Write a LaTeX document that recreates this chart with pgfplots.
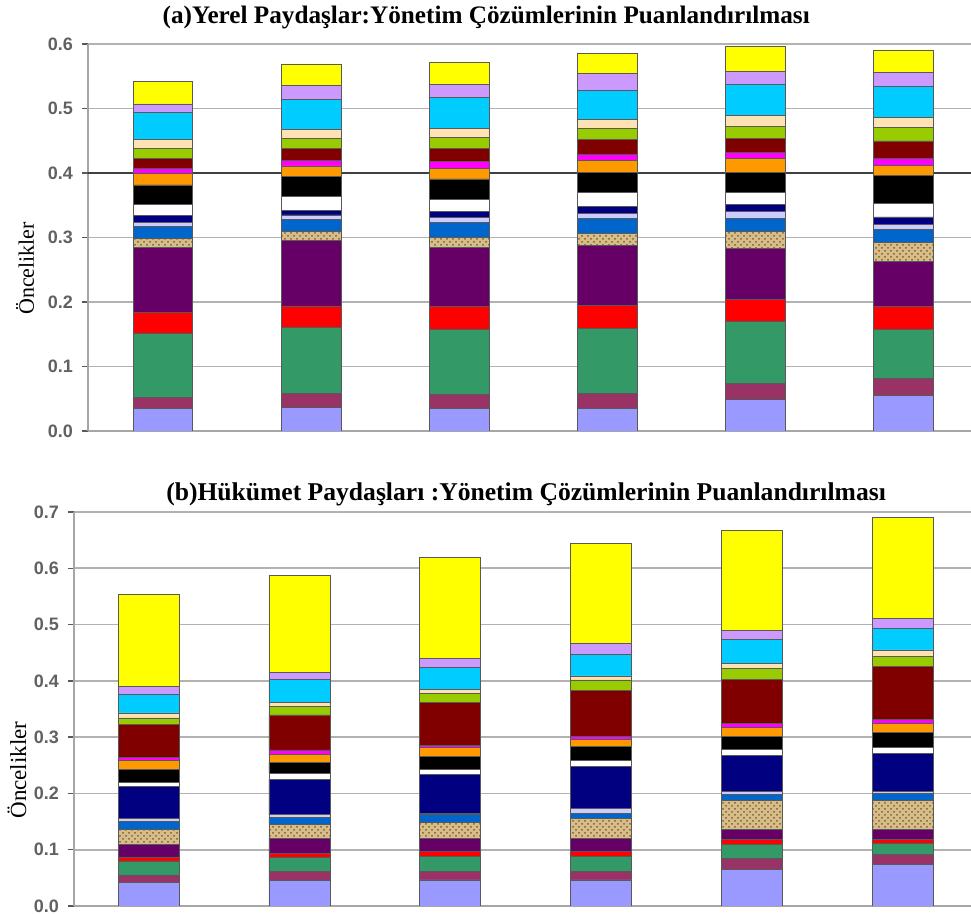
\documentclass[border=0pt]{standalone}
\usepackage{fontspec}
\setmainfont{Liberation Serif}
\newfontfamily\arialfont{Liberation Sans}
\usepackage{pgfplots}
\pgfplotsset{compat=1.18}
\usepackage{pgfplotstable}
\usetikzlibrary{patterns}

\definecolor{c1}{HTML}{9999FF}
\definecolor{c2}{HTML}{993366}
\definecolor{c3}{HTML}{339966}
\definecolor{c4}{HTML}{FF0000}
\definecolor{c5}{HTML}{660066}
\definecolor{c6}{HTML}{D6BE8A}
\definecolor{c7}{HTML}{0066CC}
\definecolor{c8}{HTML}{CCCCFF}
\definecolor{c9}{HTML}{000080}
\definecolor{c10}{HTML}{FFFFFF}
\definecolor{c11}{HTML}{000000}
\definecolor{c12}{HTML}{FF9900}
\definecolor{c13}{HTML}{FF00FF}
\definecolor{c14}{HTML}{800000}
\definecolor{c15}{HTML}{99CC00}
\definecolor{c16}{HTML}{FFE2B4}
\definecolor{c17}{HTML}{00CCFF}
\definecolor{c18}{HTML}{CC99FF}
\definecolor{c19}{HTML}{FFFF00}

% segment heights (bottom to top), one row per bar
\pgfplotstableread{
x s1 s2 s3 s4 s5 s6 s7 s8 s9 s10 s11 s12 s13 s14 s15 s16 s17 s18 s19
1 0.0352 0.0164 0.0999 0.0325 0.1008 0.0139 0.0180 0.0063 0.0108 0.0181 0.0295 0.0181 0.0078 0.0155 0.0149 0.0150 0.0408 0.0135 0.0346
2 0.0367 0.0217 0.1018 0.0336 0.1012 0.0140 0.0192 0.0067 0.0077 0.0207 0.0317 0.0159 0.0091 0.0183 0.0155 0.0142 0.0467 0.0207 0.0336
3 0.0350 0.0221 0.1009 0.0350 0.0915 0.0155 0.0231 0.0077 0.0102 0.0180 0.0318 0.0169 0.0103 0.0194 0.0180 0.0138 0.0478 0.0200 0.0348
4 0.0350 0.0237 0.1002 0.0362 0.0930 0.0179 0.0232 0.0077 0.0118 0.0205 0.0323 0.0180 0.0087 0.0241 0.0169 0.0139 0.0451 0.0256 0.0318
5 0.0494 0.0248 0.0951 0.0351 0.0786 0.0265 0.0202 0.0103 0.0113 0.0179 0.0318 0.0210 0.0103 0.0215 0.0190 0.0169 0.0473 0.0210 0.0380
6 0.0556 0.0258 0.0754 0.0362 0.0693 0.0297 0.0198 0.0087 0.0113 0.0210 0.0431 0.0159 0.0113 0.0266 0.0211 0.0154 0.0482 0.0210 0.0354
}\dataA

\pgfplotstableread{
x s1 s2 s3 s4 s5 s6 s7 s8 s9 s10 s11 s12 s13 s14 s15 s16 s17 s18 s19
1 0.0415 0.0137 0.0249 0.0071 0.0226 0.0267 0.0136 0.0060 0.0558 0.0077 0.0237 0.0149 0.0059 0.0582 0.0118 0.0089 0.0327 0.0142 0.1638
2 0.0457 0.0154 0.0250 0.0071 0.0273 0.0237 0.0131 0.0047 0.0635 0.0101 0.0196 0.0136 0.0084 0.0623 0.0148 0.0077 0.0398 0.0136 0.1726
3 0.0463 0.0155 0.0261 0.0095 0.0220 0.0297 0.0137 0.0024 0.0689 0.0083 0.0238 0.0154 0.0042 0.0761 0.0160 0.0071 0.0392 0.0161 0.1782
4 0.0463 0.0155 0.0261 0.0095 0.0232 0.0345 0.0101 0.0077 0.0743 0.0119 0.0237 0.0131 0.0048 0.0819 0.0191 0.0071 0.0374 0.0196 0.1783
5 0.0657 0.0195 0.0237 0.0089 0.0189 0.0509 0.0100 0.0060 0.0639 0.0100 0.0237 0.0166 0.0071 0.0781 0.0195 0.0077 0.0426 0.0165 0.1787
6 0.0734 0.0177 0.0196 0.0071 0.0189 0.0509 0.0118 0.0042 0.0668 0.0118 0.0261 0.0154 0.0083 0.0934 0.0178 0.0118 0.0385 0.0177 0.1793
}\dataB

\pgfplotscreateplotcyclelist{segs}{
{fill=c1,draw=black!65},
{fill=c2,draw=black!65},
{fill=c3,draw=black!65},
{fill=c4,draw=black!65},
{fill=c5,draw=black!65},
{fill=c6,draw=black!65,postaction={pattern=crosshatch dots,pattern color=brown!70!black}},
{fill=c7,draw=black!65},
{fill=c8,draw=black!65},
{fill=c9,draw=black!65},
{fill=c10,draw=black!65},
{fill=c11,draw=black!65},
{fill=c12,draw=black!65},
{fill=c13,draw=black!65},
{fill=c14,draw=black!65},
{fill=c15,draw=black!65},
{fill=c16,draw=black!65},
{fill=c17,draw=black!65},
{fill=c18,draw=black!65},
{fill=c19,draw=black!65}}

\pgfplotsset{panel/.style={
  scale only axis, anchor=south west,
  ybar stacked,
  xtick=\empty, ymin=0,
  ytick distance=0.1,
  ymajorgrids, grid style={gray!60, line width=0.9pt},
  axis lines*=left, axis line style={gray!70, line width=0.9pt},
  tick align=outside,
  ytick style={gray!70!black, line width=0.7pt}, major tick length=3pt,
  yticklabel style={font=\arialfont\bfseries\fontsize{9}{10}\selectfont, text=black!62, xshift=-1pt},
  /pgf/number format/.cd, fixed, fixed zerofill, precision=1, assume math mode=true,
  /pgfplots/.cd,
  cycle list name=segs,
  every axis plot/.append style={line width=0.4pt},
  title style={anchor=center, yshift=0pt, font=\bfseries},
  ylabel style={anchor=center},
}}

\begin{document}
\begin{tikzpicture}
\path[use as bounding box] (0,0) rectangle (485.5pt,-457pt);
\begin{axis}[panel, at={(44pt,-215.5pt)}, width=441.5pt, height=193.5pt,
  xmin=0.493, xmax=6.457, bar width=29.8pt, ymax=0.6,
  extra y ticks={0.4}, extra y tick labels={},
  extra y tick style={grid style={black!75, line width=0.9pt}},
  title={\fontsize{12.6}{14}\selectfont(a)Yerel Paydaşlar:Yönetim Çözümlerinin Puanlandırılması},
  title style={at={(axis description cs:0.451,1.038)}},
  ylabel={\fontsize{11}{13}\selectfont Öncelikler},
  ylabel style={at={(axis description cs:-0.0713,0.42)}}]
\pgfplotsinvokeforeach{1,...,19}{\addplot table[x=x,y=s#1]{\dataA};}
\end{axis}
\begin{axis}[panel, at={(37pt,-453pt)}, width=448.5pt, height=197pt,
  xmin=0.506, xmax=6.45, bar width=30.5pt, ymax=0.7,
  title={\fontsize{12.8}{14}\selectfont(b)Hükümet Paydaşları :Yönetim Çözümlerinin Puanlandırılması},
  title style={at={(axis description cs:0.504,1.015)}},
  ylabel={\fontsize{11.5}{13}\selectfont Öncelikler},
  ylabel style={at={(axis description cs:-0.0635,0.345)}}]
\pgfplotsinvokeforeach{1,...,19}{\addplot table[x=x,y=s#1]{\dataB};}
\end{axis}
\end{tikzpicture}
\end{document}
